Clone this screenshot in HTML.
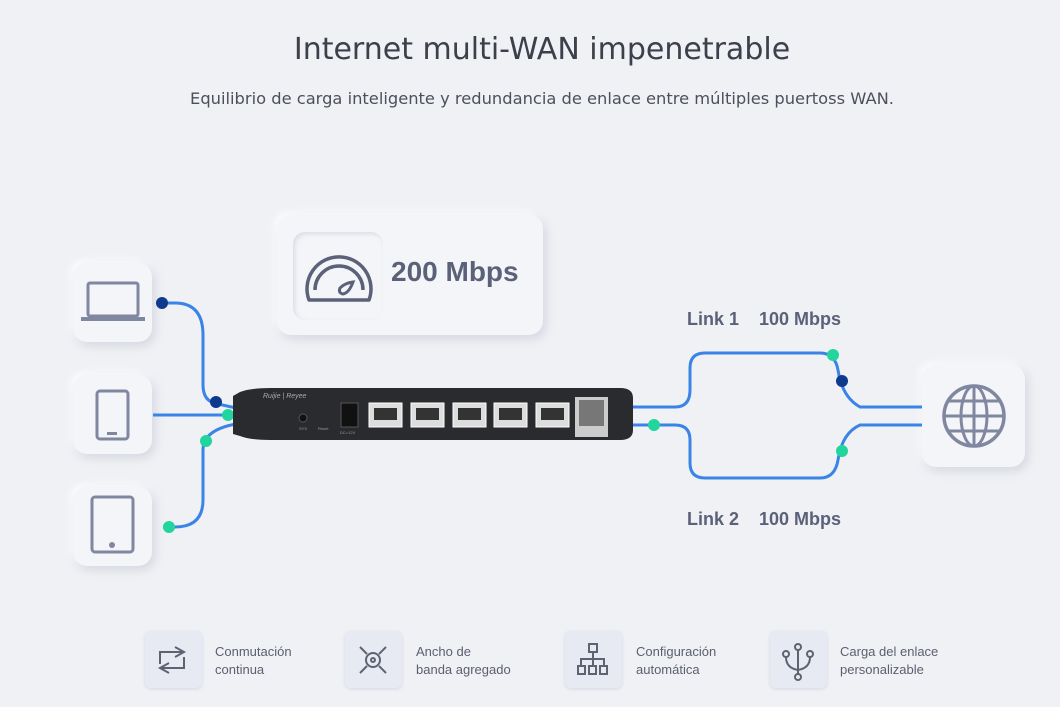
<!DOCTYPE html>
<html><head><meta charset="utf-8"><style>
*{margin:0;padding:0;box-sizing:border-box}
body{width:1060px;height:707px;background:#f0f1f5;font-family:"Liberation Sans",sans-serif;position:relative;overflow:hidden}
.t{position:absolute;left:12px;width:1060px;text-align:center;color:#3b404b;font-family:"DejaVu Sans",sans-serif}
.card{position:absolute;background:#f4f5f8;border-radius:14px;box-shadow:3px 4px 10px rgba(160,165,185,.35),-3px -3px 8px rgba(255,255,255,.9)}
.lab{position:absolute;font-weight:bold;font-size:18px;color:#5b6178}
.ib{position:absolute;width:57px;height:57px;border-radius:6px;background:#e7eaf2;box-shadow:0 1px 3px rgba(150,155,175,.3)}
.it{position:absolute;font-size:13px;line-height:18px;color:#5b6070}
</style></head><body>
<div class="t" style="top:32px;font-size:30px">Internet multi-WAN impenetrable</div>
<div class="t" style="top:89px;font-size:16.3px;color:#4b505c">Equilibrio de carga inteligente y redundancia de enlace entre múltiples puertoss WAN.</div>

<div class="card" style="left:73px;top:263px;width:79px;height:79px"></div>
<div class="card" style="left:73px;top:375px;width:79px;height:79px"></div>
<div class="card" style="left:73px;top:487px;width:79px;height:79px"></div>
<div class="card" style="left:277px;top:215px;width:266px;height:120px"></div>
<div class="card" style="left:293px;top:232px;width:90px;height:88px;border-radius:12px;box-shadow:inset 2px 2px 5px rgba(170,175,195,.35)"></div>
<div class="card" style="left:922px;top:365px;width:103px;height:102px"></div>
<div style="position:absolute;left:391px;top:256px;font-size:28px;font-weight:bold;color:#5b6178">200 Mbps</div>
<div class="lab" style="left:687px;top:309px">Link 1&nbsp;&nbsp;&nbsp; 100 Mbps</div>
<div class="lab" style="left:687px;top:509px">Link 2&nbsp;&nbsp;&nbsp; 100 Mbps</div>

<svg width="1060" height="707" style="position:absolute;left:0;top:0">
<g fill="none" stroke="#8087a0" stroke-width="4">
<rect x="88" y="283" width="50" height="33" rx="2" stroke-width="3"/>
<path d="M81 319 H145" stroke-width="4"/>
<rect x="97" y="391" width="31" height="48" rx="3" stroke-width="3"/>
<rect x="92" y="497" width="41" height="55" rx="3" stroke-width="3"/>
<circle cx="974" cy="416" r="30" stroke-width="3.5"/>
<ellipse cx="974" cy="416" rx="13" ry="30" stroke-width="3"/>
<path d="M974 386V446M944 416H1004M949 401H999M949 431H999" stroke-width="3"/>
</g>
<g fill="none" stroke="#5b6178" stroke-width="3.5">
<path d="M309 300 A32 32 0 1 1 369 300 Z" stroke-linejoin="round"/>
<path d="M315 290 A24 24 0 1 1 363 290"/>
<path d="M353 282 Q345 283 340 288 Q338 293 343 294 Q349 293 353 282 Z" stroke-width="3"/>
</g>
<rect x="107" y="432" width="10" height="3" fill="#8087a0"/>
<circle cx="112" cy="545" r="3" fill="#8087a0"/>
<g fill="none" stroke="#3a84e8" stroke-width="3">
<path d="M162 303 H175 Q203 303 203 335 V385 Q203 402 218 404 L236 408"/>
<path d="M153 415 H236"/>
<path d="M163 527 H175 Q203 527 203 500 V450 Q203 430 236 424"/>
<path d="M633 407 H675 Q690 407 690 390 V368 Q690 353 705 353 H820 Q835 353 838 370 Q842 397 860 407 H922"/>
<path d="M633 425 H675 Q690 425 690 440 V463 Q690 478 705 478 H820 Q835 478 838 460 Q842 433 860 425 H922"/>
</g>
<g fill="#0d3a8c"><circle cx="162" cy="303" r="6"/><circle cx="216" cy="402" r="6"/><circle cx="842" cy="381" r="6"/></g>
<g fill="#21d59d"><circle cx="228" cy="415" r="6"/><circle cx="206" cy="441" r="6"/><circle cx="169" cy="527" r="6"/><circle cx="833" cy="355" r="6"/><circle cx="654" cy="425" r="6"/><circle cx="842" cy="451" r="6"/></g>
<path d="M240 392 Q250 388 270 388 H620 Q633 388 633 398 V430 Q633 440 620 440 H270 Q250 440 240 436 L233 434 V396 Z" fill="#2a2b2e"/>
<text x="263" y="398" font-size="7" fill="#aaa" font-style="italic">Ruijie | Reyee</text>
<circle cx="303" cy="418" r="4" fill="#111" stroke="#555"/>
<text x="299" y="430" font-size="4" fill="#999">SYS</text>
<text x="318" y="430" font-size="4" fill="#999">Reset</text>
<rect x="341" y="403" width="17" height="24" fill="#111" stroke="#555"/>
<text x="340" y="434" font-size="4" fill="#999">DC=12V</text>
<g fill="#ddd" stroke="#fff">
<rect x="369" y="403" width="33" height="24"/><rect x="411" y="403" width="33" height="24"/><rect x="453" y="403" width="33" height="24"/><rect x="494" y="403" width="33" height="24"/><rect x="536" y="403" width="33" height="24"/>
</g>
<g fill="#333"><rect x="374" y="408" width="23" height="12"/><rect x="416" y="408" width="23" height="12"/><rect x="458" y="408" width="23" height="12"/><rect x="499" y="408" width="23" height="12"/><rect x="541" y="408" width="23" height="12"/></g>
<rect x="575" y="397" width="33" height="40" fill="#ccc"/>
<rect x="579" y="400" width="25" height="26" fill="#777"/>
</svg>

<div class="ib" style="left:145px;top:631px"></div>
<div class="ib" style="left:345px;top:631px"></div>
<div class="ib" style="left:565px;top:631px"></div>
<div class="ib" style="left:770px;top:631px"></div>
<svg width="1060" height="707" style="position:absolute;left:0;top:0">
<g fill="none" stroke="#5e6372" stroke-width="2">
<path d="M184 652 H160 V664 M175 647 L184 652 L175 657"/>
<path d="M160 668 H184 V657 M169 673 L160 668 L169 663"/>
<circle cx="373" cy="660" r="7"/><circle cx="373" cy="660" r="2"/>
<path d="M360 647 L367 654 M386 647 L379 654 M360 673 L367 666 M386 673 L379 666"/>
<rect x="589" y="644" width="8" height="8"/><rect x="578" y="666" width="7" height="8"/><rect x="589" y="666" width="7" height="8"/><rect x="600" y="666" width="7" height="8"/>
<path d="M593 652 V666 M581 666 V659 H604 V666"/>
<circle cx="798" cy="647" r="3"/><circle cx="786" cy="654" r="3"/><circle cx="810" cy="654" r="3"/><circle cx="798" cy="677" r="3"/>
<path d="M798 650 V674 M786 657 Q786 668 798 670 M810 657 Q810 668 798 670"/>
</g></svg>
<div class="it" style="left:215px;top:643px">Conmutación<br>continua</div>
<div class="it" style="left:416px;top:643px">Ancho de<br>banda agregado</div>
<div class="it" style="left:636px;top:643px">Configuración<br>automática</div>
<div class="it" style="left:840px;top:643px">Carga del enlace<br>personalizable</div>
</body></html>
